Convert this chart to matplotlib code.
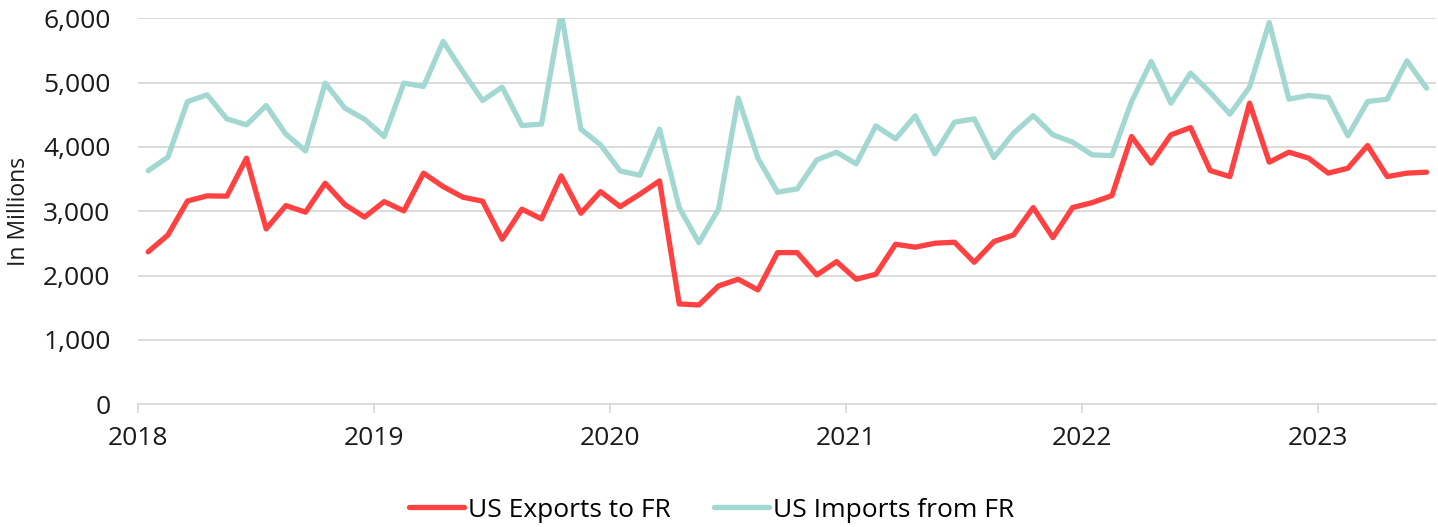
import matplotlib
matplotlib.use("Agg")
import matplotlib.pyplot as plt
import numpy as np

plt.rcParams['font.family'] = ['Open Sans', 'DejaVu Sans']

# monthly values, Jan 2018 - Jun 2023 (in millions USD)
years = ['2018', '2019', '2020', '2021', '2022', '2023']
exports_fr = [2370, 2630, 3160, 3240, 3235, 3826, 2726, 3089, 2986, 3437, 3104, 2910,
              3151, 3006, 3593, 3384, 3219, 3157, 2566, 3033, 2882, 3551, 2970, 3306,
              3073, 3266, 3473, 1560, 1544, 1840, 1944, 1778, 2358, 2358, 2011, 2218,
              1944, 2022, 2488, 2442, 2504, 2519, 2208, 2529, 2633, 3058, 2591, 3058,
              3135, 3244, 4162, 3748, 4188, 4302, 3633, 3540, 4681, 3764, 3919, 3826,
              3593, 3670, 4022, 3540, 3593, 3608]
imports_fr = [3630, 3841, 4706, 4810, 4437, 4344, 4644, 4199, 3939, 4992, 4603, 4432,
              4162, 4992, 4940, 5640, 5170, 4722, 4930, 4333, 4355, 6091, 4277, 4033,
              3628, 3560, 4277, 3058, 2513, 3033, 4759, 3826, 3297, 3348, 3799, 3919,
              3737, 4328, 4126, 4484, 3893, 4386, 4437, 3835, 4215, 4488, 4188, 4075,
              3877, 3866, 4706, 5328, 4681, 5148, 4846, 4510, 4930, 5935, 4743, 4800,
              4768, 4173, 4706, 4743, 5339, 4914]

x = np.arange(len(exports_fr)) + 0.5

fig = plt.figure(figsize=(14.38, 5.27), dpi=100)
ax = fig.add_axes([0.0962, 0.2328, 0.9027, 0.7325])

ax.plot(x, exports_fr, color='#FF4141', lw=3.8, solid_capstyle='round',
        solid_joinstyle='round', label='US Exports to FR', zorder=3)
ax.plot(x, imports_fr, color='#A2D8D1', lw=3.8, solid_capstyle='round',
        solid_joinstyle='round', label='US Imports from FR', zorder=3)

ax.set_xlim(0, len(exports_fr))
ax.set_ylim(0, 6000)
ax.set_yticks(range(0, 6001, 1000))
ax.set_yticklabels([f'{v:,}' for v in range(0, 6001, 1000)])
ax.set_xticks(np.arange(len(years)) * 12)
ax.set_xticklabels(years)

ax.grid(axis='y', color='#d9d9d9', lw=1.3)
ax.set_axisbelow(True)
for s in ['top', 'right', 'left']:
    ax.spines[s].set_visible(False)
ax.spines['bottom'].set_color('#d9d9d9')
ax.spines['bottom'].set_linewidth(1.3)
ax.tick_params(axis='y', length=0, pad=20, labelsize=19, labelcolor='#1a1a1a')
ax.tick_params(axis='x', length=6.5, width=1.3, color='#d9d9d9', pad=9,
               labelsize=19, labelcolor='#1a1a1a')

ax.set_ylabel('In Millions', fontsize=16.5, color='#1a1a1a', labelpad=9)

ax.legend(loc='center', bbox_to_anchor=(0.4415, -0.274), ncol=2, frameon=False,
          fontsize=19, handlelength=2.08, handletextpad=0.15, columnspacing=1.63)

plt.savefig('out.png', dpi=100)
